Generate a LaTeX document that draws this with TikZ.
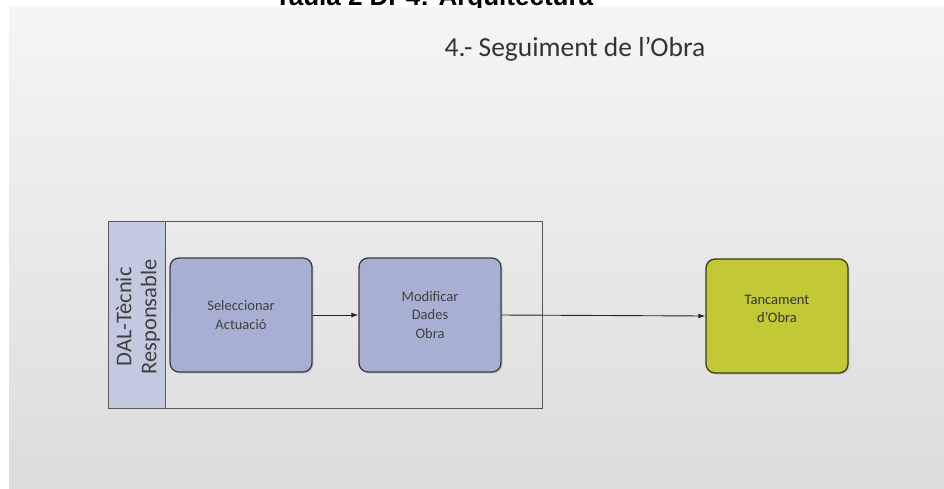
\documentclass[tikz,border=0pt]{standalone}
\usepackage{fontspec}
\setmainfont{Carlito}
\newfontfamily\arialbold{Liberation Sans}
\usetikzlibrary{arrows.meta,shadows}
\definecolor{slidetop}{HTML}{F5F5F5}
\definecolor{slidebot}{HTML}{DCDCDC}
\definecolor{lanehead}{HTML}{C3C9DF}
\definecolor{boxblue}{HTML}{A7B0D3}
\definecolor{boxgreen}{HTML}{C2C836}
\definecolor{edgedark}{HTML}{3C3C44}
\tikzset{
  procbox/.style={draw=edgedark, line width=1.3pt, rounded corners=9pt, fill=boxblue,
    minimum width=142pt, minimum height=114pt, align=center, font=\fontsize{14.5}{18.5}\selectfont,
    text=black!75, drop shadow={shadow xshift=1.5pt, shadow yshift=-1.5pt, opacity=0.3}},
  endbox/.style={procbox, fill=boxgreen, draw=black!70!boxgreen, text=black!80},
  flow/.style={draw=black!85, line width=0.9pt, -{Latex[length=7pt,width=5pt]}},
}
\begin{document}
\begin{tikzpicture}[x=1pt,y=-1pt]
\useasboundingbox (0,0) rectangle (944,488);
\fill[white] (0,0) rectangle (944,488);
\shade[top color=slidetop, bottom color=slidebot] (9,7) rectangle (944,488);
% cut-off caption at the top
\begin{scope}
\clip (0,0) rectangle (944,7);
\node[font=\arialbold\bfseries\fontsize{26}{30}\selectfont, anchor=base] (caption) at (434,5) {Taula 2 DP4: Arquitectura};
\end{scope}
\node[font=\fontsize{27.5}{32}\selectfont, text=black!80, anchor=base] (title) at (575,56) {4.- Seguiment de l'Obra};
% swimlane
\node[draw=black!65, line width=0.9pt, minimum width=434pt, minimum height=187pt, inner sep=0pt, anchor=north west] (lane) at (108,221) {};
\node[draw=black!65, line width=0.9pt, fill=lanehead, minimum width=57pt, minimum height=187pt, inner sep=0pt, anchor=north west] (lanehead) at (108,221) {};
\node[rotate=90, align=center, font=\fontsize{22.5}{25}\selectfont, text=black!75] (lanelabel) at ([xshift=1pt,yshift=-2pt]lanehead.center) {DAL-Tècnic\\Responsable};
% process boxes
\node[procbox] (sel) at (241,315) {Seleccionar\\Actuació};
\node[procbox] (mod) at (430,315) {Modificar\\Dades\\Obra};
\node[endbox] (tan) at (777,316) {Tancament\\d'Obra\\[-4pt]};
\draw[flow] (sel.east) -- (mod.west);
\draw[flow] (mod.east) -- (tan.west);
\end{tikzpicture}
\end{document}
